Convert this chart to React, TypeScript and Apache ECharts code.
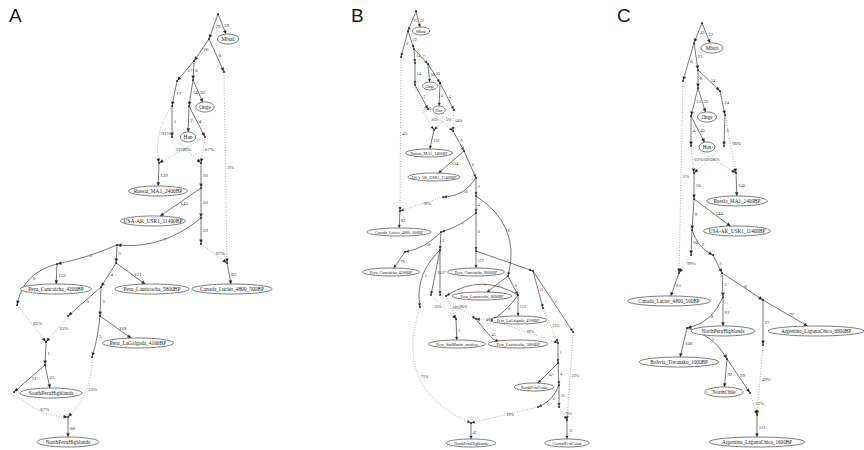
import React, { useEffect, useRef } from "react";
import * as echarts from "echarts";

type N = [string, number, number];
// [from, to, label, dotted(1) / solid(0), curvature, label side (1 right, -1 left)]
type E = [string, string, string, number, number, number?];

// ---------- Panel A ----------
const A_NODES: N[] = [
  [".R", 218, 14], ["Mbuti", 228, 39], [".n1", 209, 39], [".n2", 194, 61], [".n3", 224, 72],
  [".n4", 177, 81], [".n5", 193, 80], [".n6", 172, 106], [".n7", 189, 106], ["Onge", 205, 107],
  [".n8", 172, 137], ["Han", 188, 137], [".n9", 205, 137], [".ma", 159, 163], [".mb", 201, 163],
  ["Russia_MA1_2400BP", 158, 191], [".n10", 201, 188], ["USA-AK_USR1_11400BP", 153, 221],
  [".n11", 201, 218], [".n12", 117, 245], [".n13", 201, 244], [".mc", 227, 263],
  ["Canada_Lucier_4800_500BP", 232, 289], [".n14", 57, 264], [".n15", 116, 263],
  ["Peru_Cuncaicha_4200BP", 56, 289], [".n16", 17, 305], [".n17", 101, 287],
  ["Peru_Lauricocha_5800BP", 152, 289], [".n18", 68, 316], [".n19", 100, 316], [".n20", 92, 357],
  ["Peru_LaGalgada_4100BP", 138, 343], [".md", 46, 342], [".n21", 45, 365], [".n22", 14, 392],
  ["SouthPeruHighlands", 51, 393], [".me", 68, 417], ["NorthPeruHighlands", 68, 442],
];
const A_EDGES: E[] = [
  [".R", ".n1", "29", 0, 0], [".R", "Mbuti", "29", 0, 0],
  [".n1", ".n2", "26", 0, 0], [".n1", ".n3", "0", 0, 0], [".n3", ".mc", "3%", 1, 0],
  [".n2", ".n4", "17", 0, 0], [".n2", ".n5", "6", 0, 0],
  [".n4", ".n6", "17", 0, 0], [".n5", ".n7", "14", 0, 0], [".n5", "Onge", "32", 0, 0],
  [".n6", ".n8", "1", 0, 0], [".n7", "Han", "2", 0, 0], [".n7", ".n9", "4", 0, 0],
  [".n6", ".ma", "91%", 1, -0.2], [".n9", ".ma", "9%", 1, 0, 1],
  [".n8", ".mb", "33%", 1, 0, -1], [".n9", ".mb", "67%", 1, 0],
  [".ma", "Russia_MA1_2400BP", "139", 0, 0], [".mb", ".n10", "10", 0, 0],
  [".n10", "USA-AK_USR1_11400BP", "143", 0, 0], [".n10", ".n11", "10", 0, 0],
  [".n11", ".n12", "7", 0, 0.2], [".n11", ".n13", "59", 0, 0], [".n13", ".mc", "97%", 1, 0],
  [".mc", "Canada_Lucier_4800_500BP", "83", 0, 0],
  [".n12", ".n14", "2", 0, 0.05], [".n12", ".n15", "3", 0, 0],
  [".n14", "Peru_Cuncaicha_4200BP", "122", 0, 0], [".n14", ".n16", "0", 0, -0.3],
  [".n15", ".n17", "4", 0, 0], [".n15", "Peru_Lauricocha_5800BP", "121", 0, 0],
  [".n17", ".n18", "0", 0, 0], [".n17", ".n19", "3", 0, 0],
  [".n19", ".n20", "5", 0, 0.05], [".n19", "Peru_LaGalgada_4100BP", "118", 0, 0],
  [".n16", ".md", "65%", 1, 0], [".n18", ".md", "35%", 1, 0],
  [".md", ".n21", "1", 0, 0], [".n21", ".n22", "21", 0, 0], [".n21", "SouthPeruHighlands", "23", 0, 0],
  [".n22", ".me", "67%", 1, -0.2], [".n20", ".me", "33%", 1, 0.2],
  [".me", "NorthPeruHighlands", "68", 0, 0],
];

// ---------- Panel B ----------
const B_NODES: N[] = [
  [".R", 416, 11], ["Mbuti", 421, 31], [".b1", 408, 31], [".b2", 401, 57], [".b3", 414, 49],
  [".b4", 415, 63], [".b5", 428, 64], [".b6", 415, 85], ["Onge", 430, 86], [".b7", 440, 83],
  [".b8", 428, 109], ["Han", 439, 110], [".b9", 454, 110], [".rA", 434, 130], [".rB", 453, 131],
  ["Russia_MA1_2400BP", 429, 153], [".b10", 464, 151], ["USA-AK_USR1_11400BP", 434, 177],
  [".b11", 476, 178], [".b12", 443, 197], [".b13", 476, 196], [".cA", 400, 211],
  ["Canada_Lucier_4800_500BP", 399, 232], [".b14", 476, 213], [".b15", 441, 232], [".b16", 405, 252],
  ["Peru_Cuncaicha_4200BP", 391, 272], [".b17", 440, 250], [".b18", 420, 307], [".b19", 431, 295],
  [".b20", 440, 295], [".b21", 476, 251], ["Peru_Cuncaicha_9000BP", 476, 272], [".b22", 533, 271],
  [".b23", 508, 276], [".bX", 446, 296], ["Peru_Lauricocha_8600BP", 482, 296], [".b24", 518, 295],
  ["Peru_LaGalgada_4100BP", 518, 320], [".bY", 492, 320], [".bZ", 543, 308], [".b25", 573, 332],
  [".aSM", 456, 319], [".aL5", 476, 319], ["Peru_SanMartin_modern", 457, 344],
  ["Peru_Lauricocha_5800BP", 518, 344], [".aNC", 558, 343], [".c1", 558, 363],
  ["NorthPeruCoast", 534, 387], [".c2", 559, 385], [".c3", 538, 407], [".c4", 559, 407],
  [".aNPH", 471, 423], ["NorthPeruHighlands", 471, 443], [".aCPC", 567, 420], ["CentralPeruCoast", 567, 443],
];
const B_EDGES: E[] = [
  [".R", ".b1", "22", 0, 0], [".R", "Mbuti", "22", 0, 0],
  [".b1", ".b2", "0", 0, 0], [".b1", ".b3", "22", 0, 0],
  [".b3", ".b4", "14", 0, 0], [".b3", ".b5", "7", 0, 0],
  [".b4", ".b6", "14", 0, 0], [".b5", "Onge", "30", 0, 0], [".b5", ".b7", "23", 0, 0],
  [".b6", ".b8", "2", 0, 0], [".b7", "Han", "0", 0, 0], [".b7", ".b9", "4", 0, 0],
  [".b2", ".cA", "4%", 1, 0], [".b6", ".rA", "95%", 1, -0.1],
  [".b9", ".rA", "5%", 1, 0, 1], [".b8", ".rB", "36%", 1, 0, -1], [".b9", ".rB", "64%", 1, 0],
  [".rA", "Russia_MA1_2400BP", "132", 0, 0], [".rB", ".b10", "9", 0, 0],
  [".b10", "USA-AK_USR1_11400BP", "134", 0, 0], [".b10", ".b11", "0", 0, 0],
  [".b11", ".b12", "56", 0, 0.25], [".b11", ".b13", "2", 0, 0],
  [".b12", ".cA", "96%", 1, 0], [".cA", "Canada_Lucier_4800_500BP", "83", 0, 0],
  [".b13", ".b14", "4", 0, 0], [".b13", ".b23", "6", 0, 0.35],
  [".b14", ".b15", "7", 0, 0.1], [".b14", ".b21", "0", 0, 0],
  [".b15", ".b16", "58", 0, 0.15], [".b15", ".b17", "2", 0, 0],
  [".b16", "Peru_Cuncaicha_4200BP", "78", 0, 0],
  [".b17", ".b18", "1", 0, -0.25], [".b17", ".b19", "10", 0, 0], [".b17", ".b20", "37", 0, 0],
  [".b21", "Peru_Cuncaicha_9000BP", "117", 0, 0], [".b21", ".b22", "1", 0, 0],
  [".b22", ".b25", "2", 0, 0], [".b22", ".bZ", "11", 0, 0],
  [".b23", ".b24", "0", 0, 0], [".b23", "Peru_Lauricocha_8600BP", "2", 0, 0],
  [".b24", "Peru_LaGalgada_4100BP", "112", 0, 0], [".b24", ".bX", "1", 0, -0.3], [".b24", ".bY", "0", 0, 0.1],
  [".b19", ".aSM", "32%", 1, 0, -1], [".bX", ".aSM", "68%", 1, 0],
  [".b20", ".aL5", "96%", 1, 0], [".bY", ".aL5", "4%", 1, 0],
  [".bY", ".aNC", "69%", 1, 0], [".bZ", ".aNC", "31%", 1, 0],
  [".aSM", "Peru_SanMartin_modern", "2", 0, 0], [".aL5", "Peru_Lauricocha_5800BP", "43", 0, -0.2],
  [".aNC", ".c1", "1", 0, 0], [".c1", "NorthPeruCoast", "42", 0, 0], [".c1", ".c2", "4", 0, 0],
  [".c2", ".c3", "3", 0, 0.2], [".c2", ".c4", "31", 0, 0],
  [".b18", ".aNPH", "71%", 1, -0.45], [".c3", ".aNPH", "29%", 1, 0],
  [".c4", ".aCPC", "78%", 1, 0], [".b25", ".aCPC", "22%", 1, 0],
  [".aNPH", "NorthPeruHighlands", "42", 0, 0], [".aCPC", "CentralPeruCoast", "51", 0, 0],
];

// ---------- Panel C ----------
const C_NODES: N[] = [
  [".R", 702, 23], ["Mbuti", 712, 48], [".c1", 694, 43], [".c2", 683, 81], [".c3", 698, 70],
  [".c4", 698, 88], [".c5", 720, 91], [".c6", 691, 116], ["Onge", 707, 117], [".c7", 725, 115],
  [".c8", 691, 146], ["Han", 707, 147], [".c9", 724, 146], [".aU", 694, 173], [".aR", 736, 173],
  ["Russia_MA1_2400BP", 737, 201], [".c10", 694, 199], ["USA-AK_USR1_11400BP", 737, 231],
  [".c11", 692, 230], [".c12", 691, 255], [".c13", 713, 255], [".aC", 679, 273],
  ["Canada_Lucier_4800_500BP", 669, 301], [".c14", 722, 273], [".c15", 723, 297], [".c16", 763, 300],
  ["NorthPeruHighlands", 723, 331], [".c17", 687, 328], ["Argentina_LagunaChica_6800BP", 816, 331],
  [".c18", 763, 345], ["Bolivia_Tiwanaku_1000BP", 679, 362], [".c19", 727, 359],
  ["NorthChile", 724, 392], [".c20", 750, 393], [".aA", 757, 415], ["Argentina_LagunaChica_1600BP", 757, 442],
];
const C_EDGES: E[] = [
  [".R", ".c1", "22", 0, 0], [".R", "Mbuti", "22", 0, 0],
  [".c1", ".c2", "0", 0, 0], [".c1", ".c3", "23", 0, 0],
  [".c3", ".c4", "8", 0, 0], [".c3", ".c5", "14", 0, 0],
  [".c4", ".c6", "15", 0, 0], [".c4", "Onge", "32", 0, 0], [".c5", ".c7", "24", 0, 0],
  [".c6", ".c8", "4", 0, 0], [".c6", "Han", "45", 0, 0], [".c7", ".c9", "3", 0, 0],
  [".c2", ".aC", "1%", 1, 0], [".c7", ".aR", "90%", 1, 0],
  [".c8", ".aU", "62%", 1, 0], [".c8", ".aR", "10%", 1, 0, -1], [".c9", ".aU", "38%", 1, 0, 1],
  [".aR", "Russia_MA1_2400BP", "145", 0, 0], [".aU", ".c10", "10", 0, 0],
  [".c10", "USA-AK_USR1_11400BP", "144", 0, 0], [".c10", ".c11", "9", 0, 0],
  [".c11", ".c12", "60", 0, 0], [".c11", ".c13", "3", 0, -0.2],
  [".c12", ".aC", "99%", 1, 0], [".aC", "Canada_Lucier_4800_500BP", "61", 0, 0],
  [".c13", ".c14", "3", 0, 0], [".c14", ".c15", "5", 0, 0], [".c14", ".c16", "8", 0, 0],
  [".c15", "NorthPeruHighlands", "61", 0, 0], [".c15", ".c17", "0", 0, 0.25],
  [".c16", "Argentina_LagunaChica_6800BP", "77", 0, 0], [".c16", ".c18", "27", 0, 0],
  [".c17", "Bolivia_Tiwanaku_1000BP", "108", 0, 0], [".c17", ".c19", "1", 0, 0.2],
  [".c19", "NorthChile", "92", 0, 0], [".c19", ".c20", "29", 0, 0],
  [".c18", ".aA", "49%", 1, 0], [".c20", ".aA", "51%", 1, 0],
  [".aA", "Argentina_LagunaChica_1600BP", "111", 0, 0],
];

const PANEL_LETTERS = ["A", "B", "C"];

// ---------- styles (not data) ----------
const STYLE = [
  { nodeFont: 5.4, edgeFont: 5, ellH: 10, ellScale: 1, arrowL: 3.6, arrowW: 1.5 },
  { nodeFont: 4.1, edgeFont: 4, ellH: 8, ellScale: 0.8, arrowL: 3, arrowW: 1.2 },
  { nodeFont: 5.2, edgeFont: 4.8, ellH: 10, ellScale: 1.03, arrowL: 3.6, arrowW: 1.5 },
];
const LETTER_LEFT = [9, 351, 617];
const FONT_SERIF = "'Liberation Serif', 'DejaVu Serif', serif";

type NodeRow = { x: number; y: number; w: number; h: number; leaf: boolean; label: string; panel: number };
type EdgeRow = {
  x1: number; y1: number; x2: number; y2: number; curve: number; dotted: number;
  rx: number; ry: number; label: string; side: number; panel: number;
};

function buildRows() {
  const panels = [
    { nodes: A_NODES, edges: A_EDGES },
    { nodes: B_NODES, edges: B_EDGES },
    { nodes: C_NODES, edges: C_EDGES },
  ];
  const nodeRows: NodeRow[] = [];
  const edgeRows: EdgeRow[] = [];
  panels.forEach((p, pi) => {
    const st = STYLE[pi];
    const map = new Map<string, NodeRow>();
    p.nodes.forEach(([id, x, y]) => {
      const leaf = !id.startsWith(".");
      const row: NodeRow = {
        x, y,
        w: leaf ? (id.length * 3.1 + 6) * st.ellScale : 0,
        h: leaf ? st.ellH : 0,
        leaf, label: leaf ? id : "", panel: pi,
      };
      map.set(id, row);
      nodeRows.push(row);
    });
    p.edges.forEach(([f, t, lab, dot, cv, side]) => {
      const a = map.get(f)!;
      const b = map.get(t)!;
      edgeRows.push({
        x1: a.x, y1: a.y, x2: b.x, y2: b.y, curve: cv, dotted: dot,
        rx: b.w / 2, ry: b.h / 2, label: lab, side: side ?? 1, panel: pi,
      });
    });
  });
  return { nodeRows, edgeRows };
}

export default function App() {
  const ref = useRef<HTMLDivElement>(null);
  useEffect(() => {
    document.body.style.margin = "0";
    if (!ref.current) return;
    const chart = echarts.init(ref.current, undefined, { renderer: "svg" });
    const { nodeRows, edgeRows } = buildRows();

    const renderEdge = (params: any, api: any) => {
      const e = edgeRows[params.dataIndex];
      const st = STYLE[e.panel];
      const p1 = api.coord([api.value(0), api.value(1)]);
      const p2 = api.coord([api.value(2), api.value(3)]);
      const sz = api.size([e.rx, e.ry]);
      const rx = Math.abs(sz[0]);
      const ry = Math.abs(sz[1]);
      const dx = p2[0] - p1[0];
      const dy = p2[1] - p1[1];
      const len = Math.hypot(dx, dy) || 1;
      const nx = dy / len;
      const ny = -dx / len;
      const cx = (p1[0] + p2[0]) / 2 + nx * e.curve * len;
      const cy = (p1[1] + p2[1]) / 2 + ny * e.curve * len;
      let ex = p2[0];
      let ey = p2[1];
      const vx = cx - p2[0];
      const vy = cy - p2[1];
      if (rx > 0) {
        const k = 1 / Math.sqrt((vx / rx) ** 2 + (vy / ry) ** 2);
        ex = p2[0] + vx * k;
        ey = p2[1] + vy * k;
      } else {
        const vl = Math.hypot(vx, vy) || 1;
        ex = p2[0] + (vx / vl) * 0.7;
        ey = p2[1] + (vy / vl) * 0.7;
      }
      let ux = ex - cx;
      let uy = ey - cy;
      const ul = Math.hypot(ux, uy) || 1;
      ux /= ul;
      uy /= ul;
      const bx = ex - ux * st.arrowL;
      const by = ey - uy * st.arrowL;
      const color = e.dotted ? "#6a6a6a" : "#2e2e2e";
      const lineStyle: any = e.dotted
        ? { stroke: "#777", lineWidth: 0.7, lineDash: [0.8, 1.8], fill: null }
        : { stroke: color, lineWidth: 0.65, fill: null };
      const lineEl: any =
        e.curve === 0
          ? { type: "line", shape: { x1: p1[0], y1: p1[1], x2: bx, y2: by }, style: lineStyle }
          : { type: "bezierCurve", shape: { x1: p1[0], y1: p1[1], x2: bx, y2: by, cpx1: cx, cpy1: cy }, style: lineStyle };
      const lx = 0.25 * p1[0] + 0.5 * cx + 0.25 * ex;
      const ly = 0.25 * p1[1] + 0.5 * cy + 0.25 * ey;
      return {
        type: "group",
        children: [
          lineEl,
          {
            type: "polygon",
            shape: {
              points: [
                [ex, ey],
                [bx - uy * st.arrowW, by + ux * st.arrowW],
                [bx + uy * st.arrowW, by - ux * st.arrowW],
              ],
            },
            style: { fill: "#222", stroke: "#222", lineWidth: 0.3 },
          },
          {
            type: "text",
            style: {
              text: e.label,
              x: lx + (e.side > 0 ? 1.8 : -1.8),
              y: ly,
              align: e.side > 0 ? "left" : "right",
              verticalAlign: "middle",
              fontSize: st.edgeFont,
              fontFamily: FONT_SERIF,
              fill: "#333",
            },
          },
        ],
      };
    };

    const renderNode = (params: any, api: any) => {
      const n = nodeRows[params.dataIndex];
      const st = STYLE[n.panel];
      const p = api.coord([api.value(0), api.value(1)]);
      if (!n.leaf) {
        return { type: "circle", shape: { cx: p[0], cy: p[1], r: 0.9 }, style: { fill: "#1a1a1a" } };
      }
      const s = api.size([n.w, n.h]);
      return {
        type: "group",
        children: [
          {
            type: "ellipse",
            shape: { cx: p[0], cy: p[1], rx: Math.abs(s[0]) / 2, ry: Math.abs(s[1]) / 2 },
            style: { fill: "#fff", stroke: "#444", lineWidth: 0.7 },
          },
          {
            type: "text",
            style: {
              text: n.label,
              x: p[0],
              y: p[1],
              align: "center",
              verticalAlign: "middle",
              fontSize: st.nodeFont,
              fontFamily: FONT_SERIF,
              fill: "#222",
            },
          },
        ],
      };
    };

    chart.setOption({
      animation: false,
      backgroundColor: "#ffffff",
      grid: { left: 0, right: 0, top: 0, bottom: 0 },
      xAxis: { type: "value", min: 0, max: 864, show: false },
      yAxis: { type: "value", min: 0, max: 450, inverse: true, show: false },
      graphic: PANEL_LETTERS.map((t, i) => ({
        type: "text",
        left: LETTER_LEFT[i],
        top: 6,
        style: { text: t, fontSize: 19, fontFamily: "'Liberation Sans', Arial, sans-serif", fill: "#1a1a1a" },
      })),
      series: [
        {
          type: "custom",
          name: "edges",
          coordinateSystem: "cartesian2d",
          clip: false,
          z: 2,
          renderItem: renderEdge,
          data: edgeRows.map((e) => [e.x1, e.y1, e.x2, e.y2]),
        },
        {
          type: "custom",
          name: "nodes",
          coordinateSystem: "cartesian2d",
          clip: false,
          z: 3,
          renderItem: renderNode,
          data: nodeRows.map((n) => [n.x, n.y]),
        },
      ],
    });
    return () => chart.dispose();
  }, []);
  return (
    <div
      ref={ref}
      style={{ position: "fixed", left: 0, top: 0, width: 864, height: 450, background: "#fff" }}
    />
  );
}
